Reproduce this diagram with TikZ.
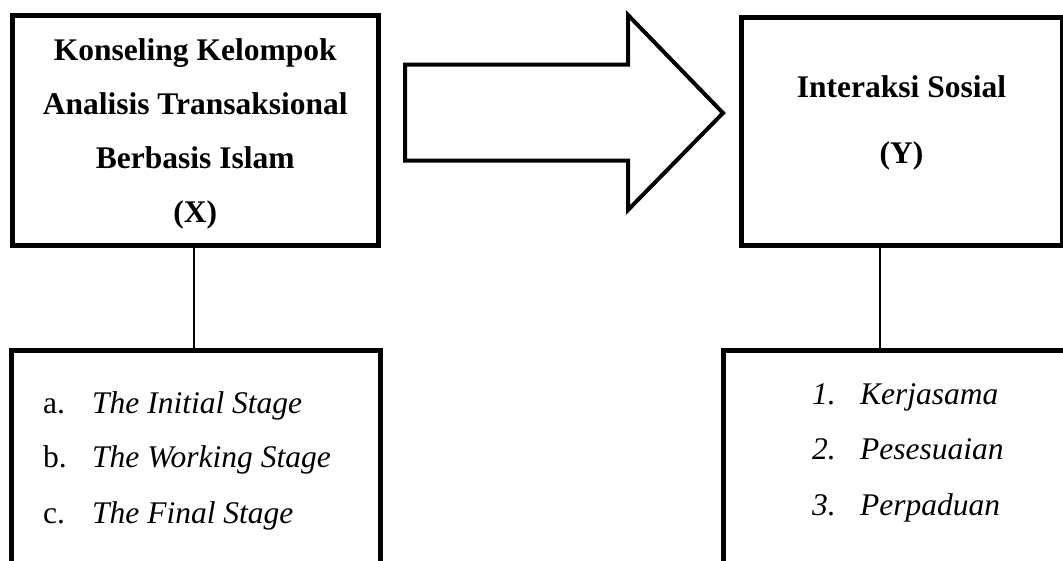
\documentclass[tikz,border=0pt]{standalone}
\usepackage{fontspec}
\setmainfont{Liberation Serif}
\begin{document}
\begin{tikzpicture}[x=1pt,y=-1pt,
  box/.style={draw, line width=5pt, inner sep=0pt},
  title/.style={inner sep=0pt, align=center,
    font=\fontsize{31.5}{54}\selectfont\bfseries},
  link/.style={line width=1.5pt},
  item/.style={anchor=base west, inner sep=0pt, font=\fontsize{31.5}{36}\selectfont},
  blockarrow/.style={draw, line width=4pt, miter limit=10}]
\useasboundingbox (0,0) rectangle (1063,560);
\clip (0,0) rectangle (1063,560);
% top boxes
\node[box, minimum width=365.5pt, minimum height=230pt] (X) at (195.25,130) {};
\node[title] (Xt) at (195.25,133.5)
  {Konseling Kelompok\\Analisis Transaksional\\Berbasis Islam\\(X)};
\node[box, minimum width=321pt, minimum height=228pt] (Y) at (901.5,131) {};
\node[title, font=\fontsize{31.5}{66}\selectfont\bfseries] (Yt) at (901.5,122.5)
  {Interaksi Sosial\\(Y)};
% bottom boxes
\node[box, minimum width=368.5pt, minimum height=270pt] (XL) at (195.75,485) {};
\node[box, minimum width=386.5pt, minimum height=270pt] (YL) at (916.75,485) {};
% list items
\node[item] (a1) at (43,413) {\makebox[49pt][l]{a.}\textit{The Initial Stage}};
\node[item] (a2) at (43,467) {\makebox[49pt][l]{b.}\textit{The Working Stage}};
\node[item] (a3) at (43,523) {\makebox[49pt][l]{c.}\textit{The Final Stage}};
\node[item] (b1) at (812,404) {\itshape\makebox[48pt][l]{1.}Kerjasama};
\node[item] (b2) at (812,459) {\itshape\makebox[48pt][l]{2.}Pesesuaian};
\node[item] (b3) at (812,515) {\itshape\makebox[48pt][l]{3.}Perpaduan};
% connectors
\draw[link] ([xshift=-1.25pt]X.south) -- ([xshift=-1.25pt]X.south |- XL.north);
\draw[link] ([xshift=-21.5pt]Y.south) -- ([xshift=-21.5pt]Y.south |- YL.north);
% block arrow
\draw[blockarrow] (405,64.5) -- (628,64.5) -- (628,15) -- (723,113) -- (628,210) -- (628,160.5) -- (405,160.5) -- cycle;
\end{tikzpicture}
\end{document}
